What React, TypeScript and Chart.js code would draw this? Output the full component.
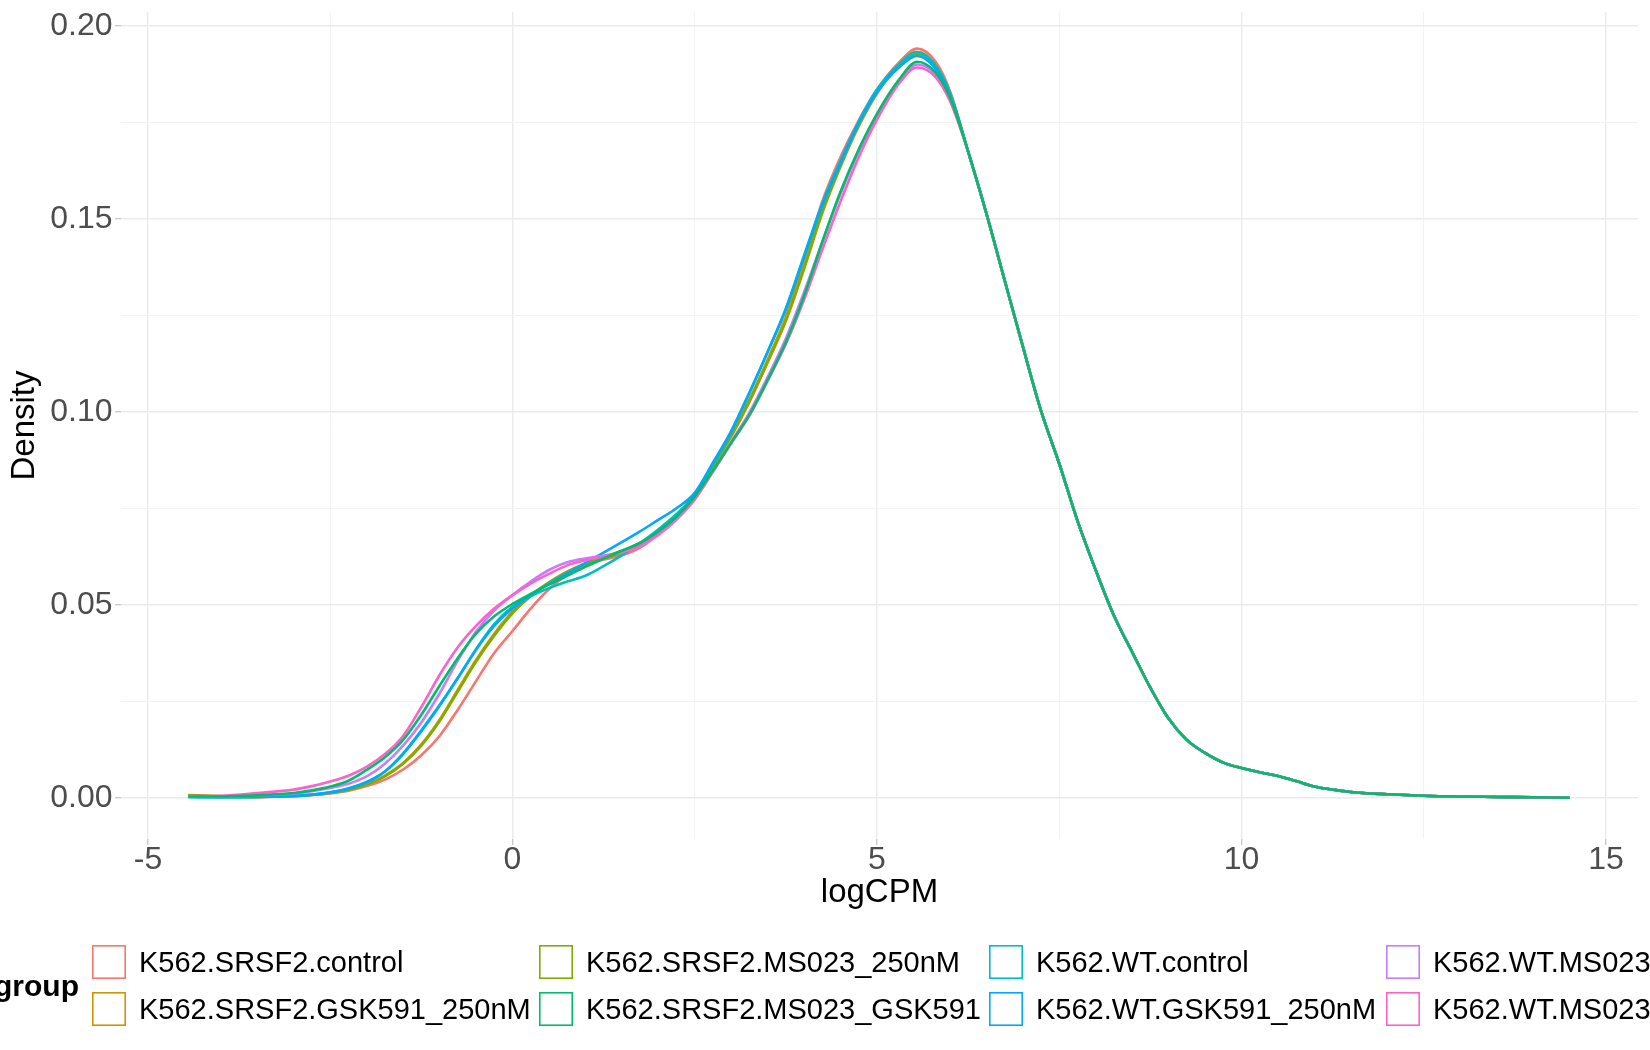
import React, { useEffect, useRef } from 'react';
import { Chart, registerables } from 'chart.js';

Chart.register(...registerables);

const FONT = '"Liberation Sans", Arial, Helvetica, sans-serif';

const groups = [
  'K562.SRSF2.control',
  'K562.SRSF2.GSK591_250nM',
  'K562.SRSF2.MS023_250nM',
  'K562.SRSF2.MS023_GSK591',
  'K562.WT.control',
  'K562.WT.GSK591_250nM',
  'K562.WT.MS023_250nM',
  'K562.WT.MS023_GSK591',
];
const groupColors = ['#F8766D', '#CD9600', '#7CAE00', '#00BE67', '#00BFC4', '#00A9FF', '#C77CFF', '#FF61CC'];

// logCPM positions where the groups still differ
const logCpmHead = [
  -4.45, -4, -3.5, -3, -2.75, -2.5, -2.25, -2, -1.75, -1.5,
  -1.25, -1, -0.75, -0.5, -0.25, 0, 0.25, 0.5, 0.75, 1,
  1.25, 1.5, 1.75, 2, 2.25, 2.5, 2.75, 3, 3.25, 3.5,
  3.75, 4, 4.25, 4.5, 4.75, 5, 5.3, 5.55, 5.8, 6,
];
// right-hand tail, the same for every group
const logCpmTail = [
  6.25, 6.5, 6.75, 7, 7.25, 7.5, 7.75, 8, 8.25, 8.5,
  8.75, 9, 9.25, 9.5, 9.75, 10, 10.25, 10.5, 10.75, 11,
  11.5, 12, 12.5, 13, 13.5, 14, 14.5,
];
const densityTail = [
  0.1675, 0.1515, 0.1342, 0.117, 0.1003, 0.0866, 0.0718, 0.059, 0.0472, 0.0378,
  0.0285, 0.0205, 0.015, 0.0116, 0.0091, 0.0077, 0.0066, 0.0056, 0.0043, 0.0029,
  0.0015, 0.0009, 0.0005, 0.0003, 0.0002, 0.0001, 0.0,
];

const srsf2Control = [
  0.0004, 0.0002, 0.0002, 0.0004, 0.0007, 0.0011, 0.0018, 0.003, 0.0047, 0.0073,
  0.011, 0.016, 0.0228, 0.0302, 0.0375, 0.0432, 0.049, 0.054, 0.0578, 0.0603,
  0.0617, 0.0628, 0.0648, 0.0683, 0.0728, 0.0785, 0.0858, 0.0935, 0.1025, 0.113,
  0.1245, 0.139, 0.1545, 0.166, 0.1755, 0.1835, 0.1905, 0.1941, 0.1908, 0.1832,
];
const srsf2Gsk591 = [
  0.0007, 0.0004, 0.0002, 0.0004, 0.0007, 0.0012, 0.0021, 0.0035, 0.0057, 0.009,
  0.0138, 0.0202, 0.028, 0.0357, 0.0425, 0.0482, 0.0525, 0.0558, 0.0586, 0.0607,
  0.0623, 0.064, 0.066, 0.0692, 0.0732, 0.0785, 0.086, 0.094, 0.1032, 0.1135,
  0.1245, 0.138, 0.1525, 0.1642, 0.1745, 0.183, 0.19, 0.1932, 0.19, 0.1828,
];
const srsf2Ms023 = [
  0.0006, 0.0003, 0.0002, 0.0004, 0.0007, 0.0012, 0.002, 0.0034, 0.0055, 0.0088,
  0.0135, 0.0198, 0.0275, 0.0352, 0.042, 0.0478, 0.0522, 0.0557, 0.0585, 0.0605,
  0.062, 0.0635, 0.0655, 0.0688, 0.073, 0.0785, 0.086, 0.0938, 0.1028, 0.1128,
  0.1235, 0.137, 0.1515, 0.1635, 0.174, 0.1825, 0.1896, 0.1928, 0.1897, 0.1826,
];
const srsf2Ms023Gsk591 = [
  0.0003, 0.0003, 0.0006, 0.0012, 0.0019, 0.0029, 0.0044, 0.0072, 0.0105, 0.015,
  0.0215, 0.029, 0.0362, 0.0425, 0.047, 0.0502, 0.0528, 0.0552, 0.0575, 0.0598,
  0.062, 0.064, 0.066, 0.069, 0.0728, 0.078, 0.0848, 0.092, 0.0992, 0.1082,
  0.118, 0.13, 0.144, 0.157, 0.168, 0.1772, 0.186, 0.1907, 0.188, 0.1815,
];
const wtControl = [
  0.0002, 0.0001, 0.0002, 0.0005, 0.0008, 0.0014, 0.0024, 0.004, 0.0068, 0.0115,
  0.0175, 0.024, 0.031, 0.0385, 0.045, 0.0495, 0.0522, 0.0543, 0.056, 0.0575,
  0.06, 0.0628, 0.066, 0.0695, 0.0735, 0.0785, 0.0865, 0.0948, 0.1048, 0.1155,
  0.1268, 0.1405, 0.154, 0.165, 0.1752, 0.1835, 0.19, 0.1932, 0.1898, 0.1826,
];
const wtGsk591 = [
  0.0002, 0.0001, 0.0002, 0.0005, 0.0008, 0.0014, 0.0024, 0.0041, 0.0068, 0.0113,
  0.0172, 0.0238, 0.031, 0.0383, 0.0445, 0.049, 0.0525, 0.0555, 0.0582, 0.0608,
  0.0635, 0.0662, 0.069, 0.072, 0.075, 0.079, 0.0868, 0.095, 0.105, 0.1155,
  0.1265, 0.14, 0.1535, 0.1645, 0.1748, 0.1828, 0.1892, 0.1922, 0.189, 0.1822,
];
const wtMs023 = [
  0.0003, 0.0003, 0.0006, 0.0011, 0.0017, 0.0025, 0.0036, 0.0055, 0.0088, 0.0135,
  0.0195, 0.027, 0.0355, 0.043, 0.0485, 0.0525, 0.056, 0.059, 0.061, 0.062,
  0.0627, 0.0636, 0.0652, 0.068, 0.072, 0.0772, 0.0845, 0.0922, 0.0998, 0.109,
  0.119, 0.131, 0.144, 0.1565, 0.1675, 0.1765, 0.1855, 0.19, 0.1875, 0.181,
];
const wtMs023Gsk591 = [
  0.0004, 0.0005, 0.0012, 0.0021, 0.003, 0.0042, 0.0057, 0.008, 0.0113, 0.016,
  0.0235, 0.0318, 0.039, 0.0445, 0.049, 0.0525, 0.0555, 0.058, 0.0602, 0.0615,
  0.0625, 0.0637, 0.0655, 0.0685, 0.0725, 0.0775, 0.0845, 0.0918, 0.099, 0.108,
  0.1175, 0.129, 0.142, 0.1545, 0.166, 0.1757, 0.185, 0.1892, 0.1868, 0.1806,
];
const headDensities = [
  srsf2Control, srsf2Gsk591, srsf2Ms023, srsf2Ms023Gsk591,
  wtControl, wtGsk591, wtMs023, wtMs023Gsk591,
];

const xTicks = [-5, -2.5, 0, 2.5, 5, 7.5, 10, 12.5, 15];
const xLabelled = [-5, 0, 5, 10, 15];
const yTicks = [0, 0.025, 0.05, 0.075, 0.1, 0.125, 0.15, 0.175, 0.2];
const yLabelled = [0, 0.05, 0.1, 0.15, 0.2];

const legendColX = [92, 539, 989, 1386];

const isIn = (list: number[], v: number) => list.some((t) => Math.abs(t - v) < 1e-9);

const legendPlugin = {
  id: 'groupLegend',
  afterDraw(chart: any) {
    const { ctx } = chart;
    ctx.save();
    ctx.fillStyle = '#000000';
    ctx.font = `bold 30px ${FONT}`;
    ctx.textAlign = 'right';
    ctx.textBaseline = 'alphabetic';
    ctx.fillText('group', 79, 996);
    ctx.font = `29px ${FONT}`;
    ctx.textAlign = 'left';
    groups.forEach((g, i) => {
      const bx = legendColX[Math.floor(i / 2)];
      const by = 945 + (i % 2) * 47;
      ctx.strokeStyle = groupColors[i];
      ctx.lineWidth = 1.6;
      ctx.strokeRect(bx + 0.8, by + 0.8, 32.4, 32.4);
      ctx.fillStyle = '#000000';
      ctx.fillText(g, bx + 47, by + 27);
    });
    ctx.restore();
  },
};

const DensityChart = () => {
  const canvasRef = useRef<HTMLCanvasElement | null>(null);

  useEffect(() => {
    document.body.style.margin = '0';
    if (!canvasRef.current) return;

    const datasets = groups.map((g, i) => ({
      label: g,
      data: [
        ...logCpmHead.map((x, j) => ({ x, y: headDensities[i][j] })),
        ...logCpmTail.map((x, j) => ({ x, y: densityTail[j] })),
      ],
      borderColor: groupColors[i],
      backgroundColor: groupColors[i],
      borderWidth: 2.6,
      pointRadius: 0,
      fill: false,
      cubicInterpolationMode: 'monotone' as const,
      order: i === 3 ? -1 : 10 - i,
    }));

    const chart = new Chart(canvasRef.current, {
      type: 'line',
      data: { datasets },
      plugins: [legendPlugin],
      options: {
        animation: false,
        responsive: false,
        devicePixelRatio: 1,
        layout: { padding: { left: 0, right: 12, top: 12, bottom: 0 } },
        plugins: { legend: { display: false }, tooltip: { enabled: false } },
        scales: {
          x: {
            type: 'linear',
            min: -5.37,
            max: 15.44,
            afterBuildTicks: (s: any) => {
              s.ticks = xTicks.map((v) => ({ value: v }));
            },
            afterFit: (s: any) => {
              s.height = 211;
              s.paddingLeft = 0;
              s.paddingRight = 0;
            },
            ticks: {
              autoSkip: false,
              maxRotation: 0,
              padding: -4,
              color: '#4D4D4D',
              font: { family: FONT, size: 32 },
              callback: (v: any) => (isIn(xLabelled, Number(v)) ? String(v) : ''),
            },
            grid: {
              color: (c: any) => (isIn(xLabelled, c.tick.value) ? '#EBEBEB' : '#F3F3F3'),
              lineWidth: (c: any) => (isIn(xLabelled, c.tick.value) ? 1.4 : 1),
              tickLength: 6,
              tickWidth: 1.2,
              tickColor: (c: any) => (isIn(xLabelled, c.tick.value) ? '#C4C4C4' : 'rgba(0,0,0,0)'),
            },
            border: { display: false },
            title: {
              display: true,
              text: 'logCPM',
              color: '#000000',
              font: { family: FONT, size: 33 },
              padding: { top: 0, bottom: 137 },
            },
          },
          y: {
            type: 'linear',
            min: -0.0107,
            max: 0.2036,
            afterBuildTicks: (s: any) => {
              s.ticks = yTicks.map((v) => ({ value: v }));
            },
            afterFit: (s: any) => {
              s.width = 121;
              s.paddingTop = 0;
              s.paddingBottom = 0;
            },
            ticks: {
              autoSkip: false,
              padding: 2.5,
              color: '#4D4D4D',
              font: { family: FONT, size: 32 },
              callback: (v: any) => (isIn(yLabelled, Number(v)) ? Number(v).toFixed(2) : ''),
            },
            grid: {
              color: (c: any) => (isIn(yLabelled, c.tick.value) ? '#EBEBEB' : '#F3F3F3'),
              lineWidth: (c: any) => (isIn(yLabelled, c.tick.value) ? 1.4 : 1),
              tickLength: 6,
              tickWidth: 1.2,
              tickColor: (c: any) => (isIn(yLabelled, c.tick.value) ? '#C4C4C4' : 'rgba(0,0,0,0)'),
            },
            border: { display: false },
            title: {
              display: true,
              text: 'Density',
              color: '#000000',
              font: { family: FONT, size: 33 },
              padding: { top: 5, bottom: 0 },
            },
          },
        },
      },
    });

    return () => {
      chart.destroy();
    };
  }, []);

  return (
    <canvas
      ref={canvasRef}
      width={1650}
      height={1050}
      style={{ display: 'block', width: 1650, height: 1050 }}
    />
  );
};

export default function App() {
  return <DensityChart />;
}
